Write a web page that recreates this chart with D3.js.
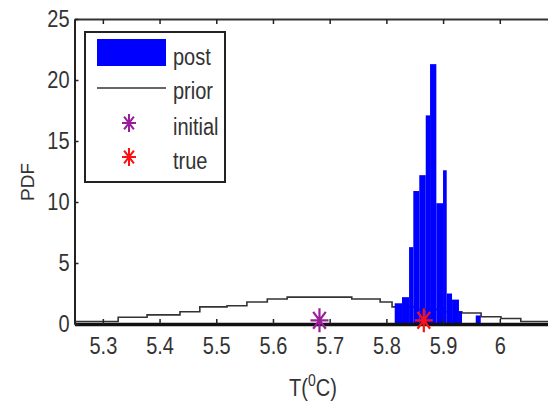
<!DOCTYPE html>
<html>
<head>
<meta charset="utf-8" />
<title>PDF of T</title>
<style>
  body { margin: 0; background: #fff; }
  text { font-family: "Liberation Sans", Arial, sans-serif; fill: #333; }
</style>
</head>
<body>
<script src="https://d3js.org/d3.v7.min.js"></script>
<script>

// posterior histogram: bin edges (T, degC) and heights (PDF)
var postEdges = [5.8147, 5.8276, 5.840, 5.8475, 5.858, 5.8694, 5.877, 5.8881, 5.8999, 5.9064, 5.9158, 5.928, 5.9334, 5.9576, 5.9664];
var postHeights = [1.7, 2.2, 6.3, 10.9, 12.2, 17.1, 21.3, 9.9, 12.6, 2.5, 2.0, 1.0, 0, 0.7];

// prior, drawn as stairs
var priorEdges = [5.25, 5.327, 5.378, 5.436, 5.471, 5.519, 5.554, 5.59, 5.625, 5.739, 5.789, 5.81, 5.85, 5.9, 5.933, 5.967, 6.002, 6.037, 6.1];
var priorValues = [0.2, 0.55, 0.75, 1.0, 1.4, 1.5, 1.8, 2.05, 2.2, 2.05, 1.8, 1.4, 1.2, 1.0, 0.9, 0.6, 0.45, 0.2];

var initialPoint = [5.682, 0.3];
var truePoint = [5.866, 0.3];

var xTicks = [5.3, 5.4, 5.5, 5.6, 5.7, 5.8, 5.9, 6.0];
var yTicks = [0, 5, 10, 15, 20, 25];
var legendLabels = ["post", "prior", "initial", "true"];

var width = 548, height = 405;
var stretch = 1.15;   // text in the original looks a bit tall

var svg = d3.select("body").append("svg")
    .attr("width", width)
    .attr("height", height);

var x = d3.scaleLinear().domain([5.25, 6.1]).range([74.5, 556.5]);
var y = d3.scaleLinear().domain([0, 25]).range([324, 19]);

function star(cx, cy, rx, ry) {
  var dx = rx * 0.7, dy = ry * 0.7;
  return "M" + (cx - rx) + "," + cy + "H" + (cx + rx) +
         "M" + cx + "," + (cy - ry) + "V" + (cy + ry) +
         "M" + (cx - dx) + "," + (cy - dy) + "L" + (cx + dx) + "," + (cy + dy) +
         "M" + (cx - dx) + "," + (cy + dy) + "L" + (cx + dx) + "," + (cy - dy);
}

function label(g, px, py, txt, size, anchor) {
  return g.append("text")
    .attr("transform", "translate(" + px + "," + py + ") scale(1," + stretch + ")")
    .attr("text-anchor", anchor)
    .style("font-size", size + "px")
    .text(txt);
}

// prior stairs
var priorPts = priorValues.map((v, i) => [priorEdges[i], v]);
priorPts.push([priorEdges[priorEdges.length - 1], priorValues[priorValues.length - 1]]);

svg.append("path")
   .attr("d", d3.line().x(d => x(d[0])).y(d => y(d[1])).curve(d3.curveStepAfter)(priorPts))
   .attr("fill", "none")
   .attr("stroke", "#333")
   .attr("stroke-width", 1.6);

// posterior histogram
svg.append("g").attr("fill", "#0000ff")
   .selectAll("rect")
   .data(postHeights)
   .join("rect")
   .attr("x", (d, i) => x(postEdges[i]))
   .attr("width", (d, i) => x(postEdges[i + 1]) - x(postEdges[i]))
   .attr("y", d => y(d))
   .attr("height", d => y(0) - y(d));

// axes
var xAxis = svg.append("g")
   .attr("transform", "translate(0," + y(0) + ")")
   .call(d3.axisBottom(x).tickValues(xTicks).tickFormat(d3.format("")).tickSizeInner(-5).tickSizeOuter(0).tickPadding(12));
xAxis.select(".domain").attr("stroke", "#111").attr("stroke-width", 3.5);
xAxis.selectAll(".tick line").attr("stroke", "#222").attr("stroke-width", 1.5);
xAxis.selectAll(".tick text")
   .attr("transform", "scale(1," + stretch + ")")
   .style("font-size", "20px").attr("fill", "#333");

var topAxis = svg.append("g")
   .attr("transform", "translate(0," + y(25) + ")")
   .call(d3.axisTop(x).tickValues(xTicks).tickFormat("").tickSizeInner(-5).tickSizeOuter(0));
topAxis.select(".domain").attr("stroke", "#333").attr("stroke-width", 1.8);
topAxis.selectAll(".tick line").attr("stroke", "#222").attr("stroke-width", 1.5);

var yAxis = svg.append("g")
   .attr("transform", "translate(" + x(5.25) + ",0)")
   .call(d3.axisLeft(y).tickValues(yTicks).tickSizeInner(-4).tickSizeOuter(0).tickPadding(5));
yAxis.select(".domain").attr("stroke", "#222").attr("stroke-width", 2);
yAxis.selectAll(".tick line").attr("stroke", "#222").attr("stroke-width", 1.5);
yAxis.selectAll(".tick text")
   .attr("transform", "scale(1," + stretch + ")")
   .style("font-size", "20px").attr("fill", "#333");

// initial and true markers
svg.append("path")
   .attr("d", star(x(initialPoint[0]), y(initialPoint[1]), 9, 12))
   .attr("stroke", "#9a1e9a").attr("stroke-width", 2.2).attr("fill", "none");
svg.append("path")
   .attr("d", star(x(truePoint[0]), y(truePoint[1]), 9, 12))
   .attr("stroke", "#ff1010").attr("stroke-width", 2.2).attr("fill", "none");

// axis titles
svg.append("text")
   .attr("transform", "translate(34,182) rotate(-90)")
   .attr("text-anchor", "middle")
   .style("font-size", "19px")
   .text("PDF");

var xt = label(svg, 313, 396, "", 20, "middle");
xt.append("tspan").text("T(");
xt.append("tspan").attr("dy", -9).style("font-size", "14px").text("0");
xt.append("tspan").attr("dy", 9).text("C)");

// legend
var legend = svg.append("g");
legend.append("rect")
   .attr("x", 85).attr("y", 32).attr("width", 140).attr("height", 150)
   .attr("fill", "#fff").attr("stroke", "#222").attr("stroke-width", 2);

legend.append("rect")
   .attr("x", 97).attr("y", 39).attr("width", 69).attr("height", 27)
   .attr("fill", "#0000ff");
legend.append("line")
   .attr("x1", 97).attr("x2", 166).attr("y1", 88).attr("y2", 88)
   .attr("stroke", "#333").attr("stroke-width", 1.6);
legend.append("path")
   .attr("d", star(129, 123, 7, 9))
   .attr("stroke", "#9a1e9a").attr("stroke-width", 2).attr("fill", "none");
legend.append("path")
   .attr("d", star(129, 157, 7, 9))
   .attr("stroke", "#ff1010").attr("stroke-width", 2).attr("fill", "none");

var legendY = [65, 99, 135, 169];
legendLabels.forEach(function(t, i) {
  label(legend, 173, legendY[i], t, 20, "start");
});

</script>
</body>
</html>
